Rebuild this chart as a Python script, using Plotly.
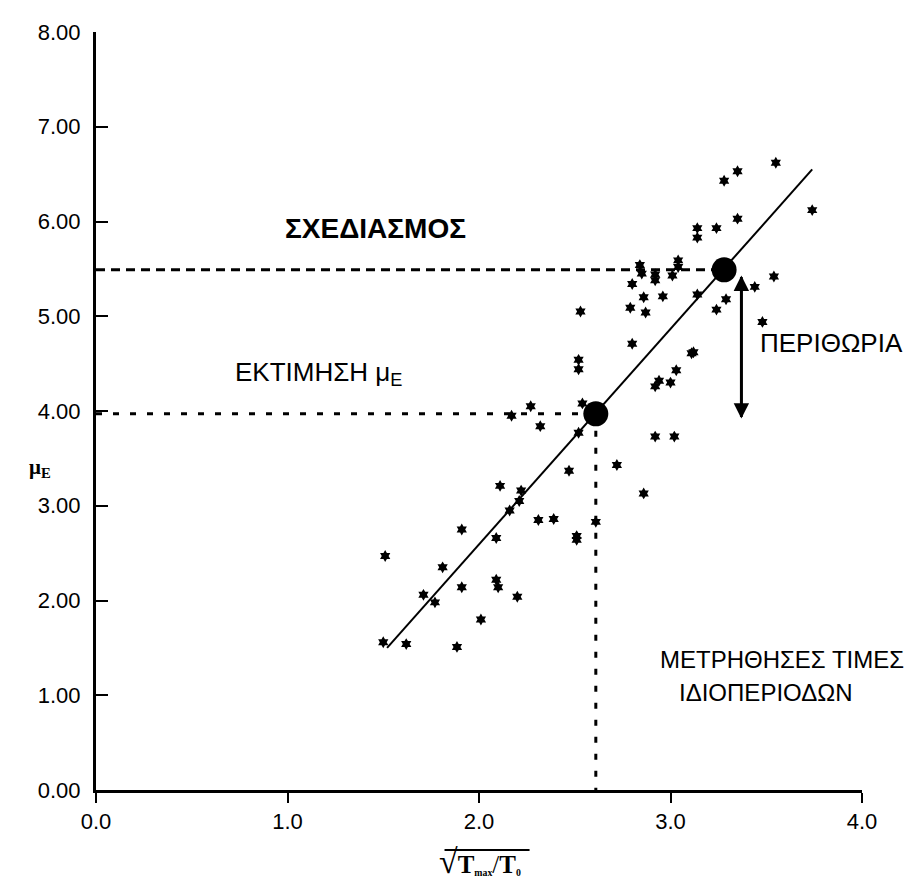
import plotly.graph_objects as go

# ---- data ----
x_vals = [1.51, 1.50, 1.62, 1.71, 1.77, 1.81, 1.885, 1.91, 1.91, 2.01,
          2.09, 2.09, 2.10, 2.11, 2.20, 2.16, 2.21, 2.22, 2.31, 2.39,
          2.51, 2.51, 2.47, 2.27, 2.17, 2.32, 2.52, 2.54, 2.52, 2.52,
          2.53, 2.72, 2.86, 2.61, 2.80, 2.79, 2.86, 2.87, 2.80, 2.92,
          3.02, 3.24, 3.48, 3.11, 3.12, 3.03, 2.94, 2.92, 3.00, 3.55,
          3.35, 3.28, 3.35, 3.14, 3.24, 3.14, 2.84, 2.85, 2.92, 2.92,
          3.01, 3.04, 3.04, 2.96, 3.14, 3.29, 3.44, 3.54, 3.74]
y_vals = [2.47, 1.56, 1.54, 2.06, 1.98, 2.35, 1.51, 2.14, 2.75, 1.80,
          2.66, 2.22, 2.14, 3.21, 2.04, 2.95, 3.05, 3.16, 2.85, 2.86,
          2.68, 2.64, 3.37, 4.05, 3.95, 3.84, 3.77, 4.08, 4.54, 4.44,
          5.05, 3.43, 3.13, 2.83, 4.71, 5.09, 5.20, 5.04, 5.34, 3.73,
          3.73, 5.07, 4.94, 4.61, 4.62, 4.43, 4.32, 4.26, 4.30, 6.62,
          6.53, 6.43, 6.03, 5.93, 5.93, 5.83, 5.54, 5.45, 5.44, 5.38,
          5.43, 5.59, 5.52, 5.21, 5.23, 5.18, 5.31, 5.42, 6.12]

fit_x = [1.52, 3.74]
fit_y = [1.50, 6.55]

est_x, est_y = 2.61, 3.97      # estimated point (ΕΚΤΙΜΗΣΗ)
des_x, des_y = 3.28, 5.49      # design point (ΣΧΕΔΙΑΣΜΟΣ)
margin_x = 3.37                # margin arrow position
margin_top, margin_bottom = 5.43, 3.92

x_ticks = [0, 1, 2, 3, 4]
y_ticks = [0, 1, 2, 3, 4, 5, 6, 7, 8]

sans = "Liberation Sans, Arial, sans-serif"
serif = "Liberation Serif, Times New Roman, serif"

fig = go.Figure()

# guide lines
fig.add_trace(go.Scatter(x=[0, des_x], y=[des_y, des_y], mode="lines",
                         line=dict(color="black", width=3, dash="9px,6px"),
                         hoverinfo="skip", showlegend=False))
fig.add_trace(go.Scatter(x=[0, est_x], y=[est_y, est_y], mode="lines",
                         line=dict(color="black", width=3, dash="6px,11px"),
                         hoverinfo="skip", showlegend=False))
fig.add_trace(go.Scatter(x=[est_x, est_x], y=[est_y, 0], mode="lines",
                         line=dict(color="black", width=3, dash="6px,11px"),
                         hoverinfo="skip", showlegend=False))
# regression line
fig.add_trace(go.Scatter(x=fit_x, y=fit_y, mode="lines",
                         line=dict(color="black", width=2),
                         showlegend=False))
# measured points
fig.add_trace(go.Scatter(x=x_vals, y=y_vals, mode="markers",
                         marker=dict(symbol="hexagram", size=9, color="black"),
                         showlegend=False))
# key points
fig.add_trace(go.Scatter(x=[est_x, des_x], y=[est_y, des_y], mode="markers",
                         marker=dict(symbol="circle", size=25, color="black"),
                         showlegend=False))

# double-headed margin arrow
for tip, tail in ((margin_top, margin_bottom), (margin_bottom, margin_top)):
    fig.add_annotation(x=margin_x, y=tip, ax=margin_x, ay=tail,
                       xref="x", yref="y", axref="x", ayref="y",
                       text="", showarrow=True, arrowhead=2, arrowsize=1.1,
                       arrowwidth=2.8, arrowcolor="black")

fig.add_annotation(x=1.46, y=5.93, xref="x", yref="y", showarrow=False,
                   text="<b>ΣΧΕΔΙΑΣΜΟΣ</b>",
                   font=dict(family=sans, size=28, color="black"))
fig.add_annotation(x=1.16, y=4.40, xref="x", yref="y", showarrow=False,
                   text="ΕΚΤΙΜΗΣΗ μ<sub>E</sub>",
                   font=dict(family=sans, size=26, color="black"))
fig.add_annotation(x=3.457, y=4.72, xref="x", yref="y", showarrow=False,
                   xanchor="left", text="ΠΕΡΙΘΩΡΙΑ",
                   font=dict(family=sans, size=26, color="black"))
fig.add_annotation(x=3.58, y=1.38, xref="x", yref="y", showarrow=False,
                   text="ΜΕΤΡΗΘΗΣΕΣ ΤΙΜΕΣ",
                   font=dict(family=sans, size=24, color="black"))
fig.add_annotation(x=3.50, y=1.03, xref="x", yref="y", showarrow=False,
                   text="ΙΔΙΟΠΕΡΙΟΔΩΝ",
                   font=dict(family=sans, size=24, color="black"))
# y-axis label (horizontal)
fig.add_annotation(x=-0.09, y=0.425, xref="paper", yref="paper",
                   showarrow=False, text="<b>μ<sub>E</sub></b>",
                   font=dict(family=serif, size=21, color="black"))
# x-axis label
fig.add_annotation(x=0.501, y=-0.122, xref="paper", yref="paper",
                   showarrow=False,
                   text="<span style='font-size:34px'>√</span><b>T</b><span style='font-size:14px'><b><sub>max</sub></b></span>/<b>T</b><span style='font-size:14px'><b><sub>0</sub></b></span>",
                   font=dict(family=serif, size=25, color="black"))
# overline of the square root
fig.add_shape(type="line", xref="paper", yref="paper",
              x0=0.455, x1=0.566, y0=-0.079, y1=-0.079,
              line=dict(color="black", width=2))

fig.update_layout(
    width=909, height=874,
    margin=dict(l=88, r=55, t=17, b=92),
    paper_bgcolor="white", plot_bgcolor="white",
    showlegend=False,
    xaxis=dict(range=[0, 4], tickvals=x_ticks, tickformat=".1f",
               ticks="outside", ticklen=10, tickwidth=2, tickcolor="black",
               showline=True, linewidth=3, linecolor="black",
               showgrid=False, zeroline=False,
               tickfont=dict(family=sans, size=22, color="black")),
    yaxis=dict(range=[0, 8], tickvals=y_ticks, tickformat=".2f",
               ticks="inside", ticklen=12, tickwidth=2, tickcolor="black",
               showline=True, linewidth=3, linecolor="black",
               showgrid=False, zeroline=False, ticklabelstandoff=8,
               tickfont=dict(family=sans, size=22, color="black")),
)

fig.write_html("out.html")
